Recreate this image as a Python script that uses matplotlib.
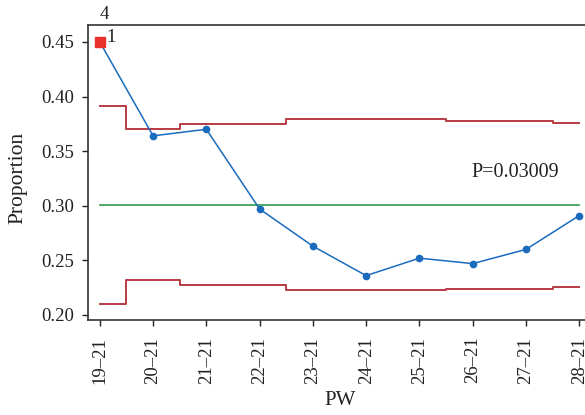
import numpy as np
import matplotlib.pyplot as plt

plt.rcParams['font.family'] = ['Liberation Serif', 'DejaVu Serif']

# P chart data
weeks = ['19–21', '20–21', '21–21', '22–21', '23–21',
         '24–21', '25–21', '26–21', '27–21', '28–21']
proportion = [0.450, 0.364, 0.370, 0.297, 0.263,
              0.236, 0.252, 0.247, 0.260, 0.291]
ucl = [0.391, 0.370, 0.375, 0.375, 0.379, 0.379, 0.379, 0.378, 0.378, 0.376]
lcl = [0.210, 0.232, 0.227, 0.227, 0.223, 0.223, 0.223, 0.224, 0.224, 0.226]
p_bar = 0.3009
out_idx = [0]  # points failing test 1

x = np.arange(len(weeks))
txt = '#222222'

fig = plt.figure(figsize=(5.85, 4.15), dpi=100)
ax = fig.add_axes([0.150, 0.229, 0.852, 0.711])

ax.step(x, ucl, where='mid', color='#b83a44', lw=1.4)
ax.step(x, lcl, where='mid', color='#b83a44', lw=1.4)
ax.plot([x[0], x[-1]], [p_bar, p_bar], color='#2e9a4e', lw=1.2)

ax.plot(x, proportion, color='#1a6bbd', lw=1.1, marker='o', ms=4.5,
        markerfacecolor='#1a6bbd', markeredgecolor='#1a6bbd')
ax.plot(x[out_idx], np.array(proportion)[out_idx], 's', color='#e8312b', ms=7)

ax.annotate('1', (x[0], proportion[0]), xytext=(5, 3), textcoords='offset points',
            ha='left', va='center', fontsize=13.5, color=txt)
ax.annotate('4', (x[0], 0.4656), xytext=(3.5, 7.5), textcoords='offset points',
            ha='center', va='center', fontsize=13.5, color=txt,
            annotation_clip=False)
ax.text(7.79, 0.3305, 'P=0.03009', ha='center', va='center', fontsize=14.5,
        color=txt)

ax.set_xlim(-0.226, 9.13)
ax.set_ylim(0.1954, 0.4656)
ax.set_xticks(x)
ax.set_xticklabels(weeks, rotation=90)
ax.set_yticks([0.20, 0.25, 0.30, 0.35, 0.40, 0.45])
ax.set_yticklabels(['0.20', '0.25', '0.30', '0.35', '0.40', '0.45'])
ax.tick_params(labelsize=13.5, colors=txt, length=4, width=1.0)
ax.tick_params(axis='x', pad=8)
ax.tick_params(axis='y', pad=6)

for side in ['left', 'bottom', 'top']:
    ax.spines[side].set_color('#333333')
    ax.spines[side].set_linewidth(1.2)
ax.spines['right'].set_visible(False)

ax.set_xlabel('PW', fontsize=15, color=txt, va='center')
ax.set_ylabel('Proportion', fontsize=15.5, color=txt, va='center')
ax.xaxis.set_label_coords(0.5056, -0.2746)
ax.yaxis.set_label_coords(-0.1404, 0.483)

fig.savefig('out.png', dpi=100)
